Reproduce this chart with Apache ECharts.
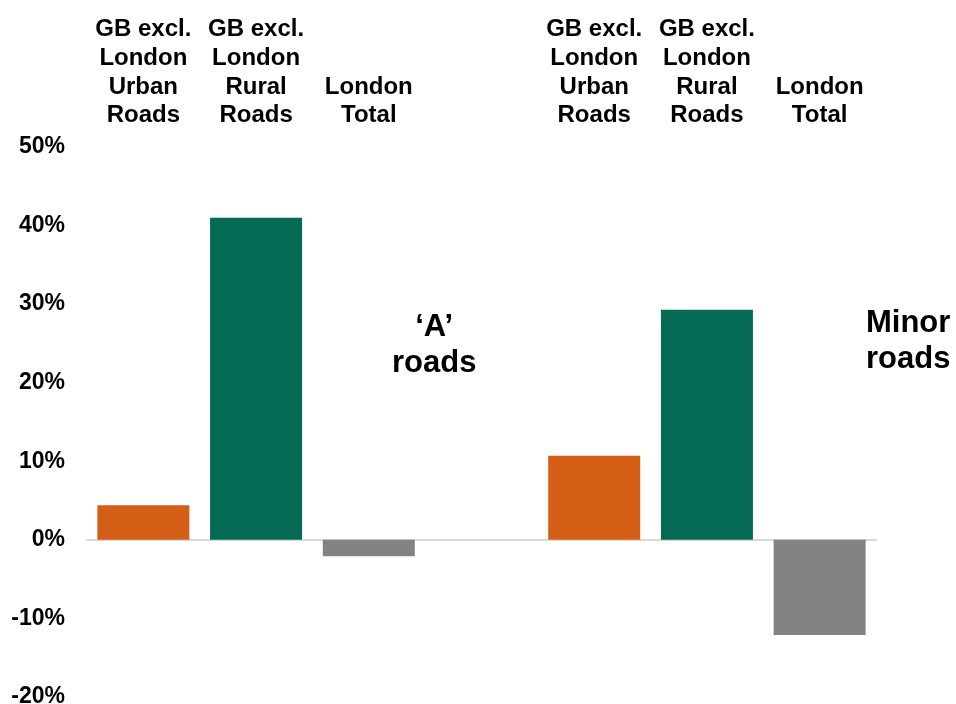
<!DOCTYPE html>
<html>
<head>
<meta charset="utf-8">
<script src="https://cdn.jsdelivr.net/npm/echarts@6/dist/echarts.min.js"></script>
<style>html,body{margin:0;padding:0;background:#fff}#c{width:956px;height:704px}</style>
</head>
<body>
<div id="c"></div>
<script>
const categories = [
  'GB excl.\nLondon\nUrban\nRoads',
  'GB excl.\nLondon\nRural\nRoads',
  'London\nTotal',
  '',
  'GB excl.\nLondon\nUrban\nRoads',
  'GB excl.\nLondon\nRural\nRoads',
  'London\nTotal'
];
const values = [4.4, 41.0, -2.1, null, 10.7, 29.3, -12.1];
const barColors = ['#D55E17', '#046A54', '#838383', '#ffffff', '#D55E17', '#046A54', '#838383'];
const yTicks = { min: -20, max: 50, interval: 10 };
const groupLabels = ['\u2018A\u2019\nroads', 'Minor\nroads'];

const font = '"Liberation Sans", Arial, sans-serif';
const chart = echarts.init(document.getElementById('c'));
chart.setOption({
  animation: false,
  grid: { left: 87, right: 80, top: 147, bottom: 7, containLabel: false, outerBoundsMode: 'none' },
  xAxis: [
    {
      type: 'category', data: categories, position: 'top',
      axisLine: { show: false, onZero: false }, axisTick: { show: false },
      axisLabel: { interval: 0, color: '#000', fontFamily: font, fontWeight: 'bold', fontSize: 24, lineHeight: 28.7, margin: 17 }
    },
    {
      type: 'category', data: categories, position: 'bottom',
      axisLine: { show: true, onZero: true, lineStyle: { color: '#d9d9d9', width: 2 } },
      axisTick: { show: false }, axisLabel: { show: false }
    }
  ],
  yAxis: {
    type: 'value', min: yTicks.min, max: yTicks.max, interval: yTicks.interval,
    splitLine: { show: false }, axisLine: { show: false }, axisTick: { show: false },
    axisLabel: { formatter: '{value}%', color: '#000', fontFamily: font, fontWeight: 'bold', fontSize: 23, margin: 22 }
  },
  series: [{
    type: 'bar', xAxisIndex: 0, barWidth: 92,
    data: values.map((v, i) => ({ value: v, itemStyle: { color: barColors[i] } }))
  }],
  graphic: [
    { type: 'text', left: 392, top: 309, style: { text: groupLabels[0], fill: '#000', font: 'bold 31px ' + font, textAlign: 'center', lineHeight: 36 } },
    { type: 'text', left: 866, top: 305, style: { text: groupLabels[1], fill: '#000', font: 'bold 31px ' + font, textAlign: 'left', lineHeight: 36 } }
  ]
});
</script>
</body>
</html>
